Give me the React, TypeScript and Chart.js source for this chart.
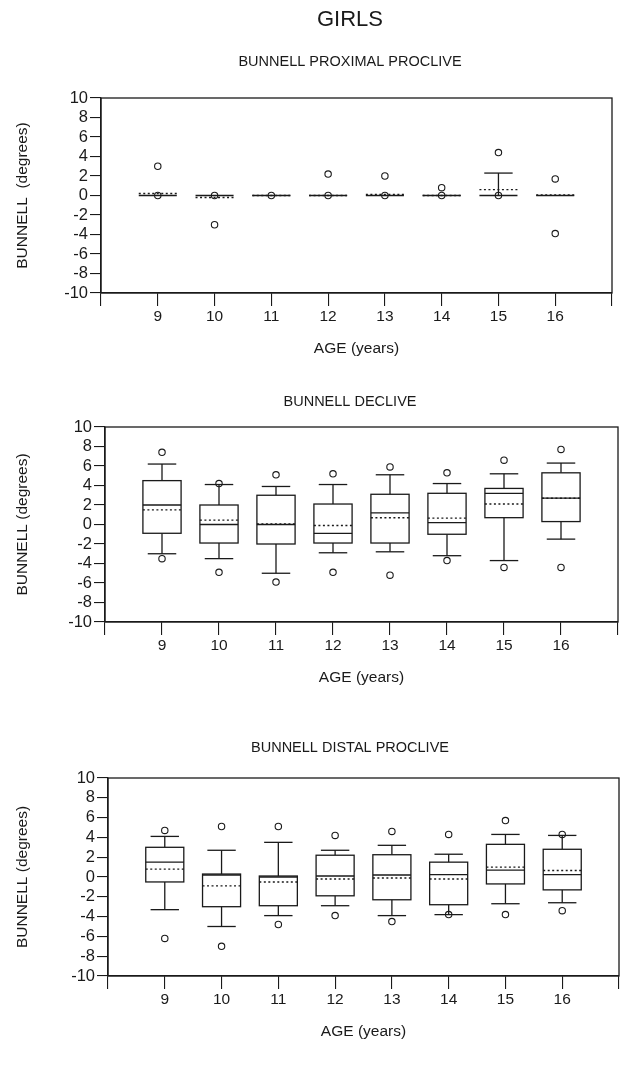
import React, { useEffect, useRef } from 'react';
import { Chart, registerables } from 'chart.js';

Chart.register(...registerables);

// ---------------- data ----------------
const AGES = [9, 10, 11, 12, 13, 14, 15, 16];
const AGE_LABEL_MIN = 9;
const AGE_LABEL_MAX = 16;
const X_MIN = 8;
const X_MAX = 17;
const Y_MIN = -10;
const Y_MAX = 10;
const Y_STEP = 2;

const MAIN_TITLE = 'GIRLS';
const X_TITLE = 'AGE (years)';

// Panel 1: BUNNELL PROXIMAL PROCLIVE
const PROX_TITLE = 'BUNNELL PROXIMAL PROCLIVE';
const PROX_Y_TITLE = 'BUNNELL  (degrees)';
const PROX_LOW = [0, 0, 0, 0, 0, 0, 0, 0];
const PROX_Q1 = [0, 0, 0, 0, 0, 0, 0, 0];
const PROX_MEDIAN = [0, 0, 0, 0, 0, 0, 0, 0];
const PROX_Q3 = [0, 0, 0, 0, 0, 0, 0, 0];
const PROX_HIGH = [0, 0, 0, 0, 0, 0, 2.3, 0];
const PROX_MEAN = [0.2, -0.2, 0, 0, 0.1, 0, 0.6, 0.05];
const PROX_OUTLIERS = [[3.0, 0], [0, -3.0], [0], [2.2, 0], [2.0, 0], [0.8, 0], [4.4, 0], [1.7, -3.9]];

// Panel 2: BUNNELL DECLIVE
const DECL_TITLE = 'BUNNELL DECLIVE';
const DECL_Y_TITLE = 'BUNNELL (degrees)';
const DECL_LOW = [-3.0, -3.5, -5.0, -2.9, -2.8, -3.2, -3.7, -1.5];
const DECL_Q1 = [-0.9, -1.9, -2.0, -1.9, -1.9, -1.0, 0.7, 0.3];
const DECL_MEDIAN = [2.0, 0.0, 0.0, -0.9, 1.2, 0.2, 3.2, 2.7];
const DECL_Q3 = [4.5, 2.0, 3.0, 2.1, 3.1, 3.2, 3.7, 5.3];
const DECL_HIGH = [6.2, 4.1, 3.9, 4.1, 5.1, 4.2, 5.2, 6.3];
const DECL_MEAN = [1.5, 0.45, 0.05, -0.1, 0.7, 0.65, 2.1, 2.7];
const DECL_OUTLIERS = [[7.4, -3.5], [4.2, -4.9], [5.1, -5.9], [5.2, -4.9], [5.9, -5.2], [5.3, -3.7], [6.6, -4.4], [7.7, -4.4]];

// Panel 3: BUNNELL DISTAL PROCLIVE
const DIST_TITLE = 'BUNNELL DISTAL PROCLIVE';
const DIST_Y_TITLE = 'BUNNELL (degrees)';
const DIST_LOW = [-3.3, -5.0, -3.9, -2.9, -3.9, -3.8, -2.7, -2.6];
const DIST_Q1 = [-0.5, -3.0, -2.9, -1.9, -2.3, -2.8, -0.7, -1.3];
const DIST_MEDIAN = [1.5, 0.2, 0.0, 0.1, 0.2, 0.25, 0.7, 0.25];
const DIST_Q3 = [3.0, 0.3, 0.1, 2.2, 2.25, 1.5, 3.3, 2.8];
const DIST_HIGH = [4.1, 2.7, 3.5, 2.7, 3.2, 2.3, 4.3, 4.2];
const DIST_MEAN = [0.8, -0.9, -0.5, -0.2, -0.1, -0.2, 1.0, 0.65];
const DIST_OUTLIERS = [[4.7, -6.2], [5.1, -7.0], [5.1, -4.8], [4.2, -3.9], [4.6, -4.5], [4.3, -3.8], [5.7, -3.8], [4.3, -3.4]];

// ---------------- styles / layout ----------------
const FONT = "'Liberation Sans', Arial, Helvetica, sans-serif";
const INK = '#1a1a1a';
const CANVAS_W = 700;
const BOX_WIDTH = 0.67; // in age units
const CAP_WIDTH = 0.5;
const X_TICK_FONT = 15.5;
const Y_TICK_FONT = 16.5;
const PANEL_TITLE_FONT = 14.5;
const AXIS_TITLE_FONT = 15.5;
const AGE_GAP = 56;

type PanelData = {
  key: string; title: string; yTitle: string; main: boolean;
  low: number[]; q1: number[]; median: number[]; q3: number[]; high: number[]; mean: number[]; outliers: number[][];
};
type PanelLayout = { top: number; height: number; areaTop: number; areaBottom: number; left: number; right: number; titleCenter: number };

const PANELS: { data: PanelData; layout: PanelLayout }[] = [
  {
    data: { key: 'prox', title: PROX_TITLE, yTitle: PROX_Y_TITLE, main: true, low: PROX_LOW, q1: PROX_Q1, median: PROX_MEDIAN, q3: PROX_Q3, high: PROX_HIGH, mean: PROX_MEAN, outliers: PROX_OUTLIERS },
    layout: { top: 0, height: 358, areaTop: 98, areaBottom: 293, left: 101, right: 612, titleCenter: 62 },
  },
  {
    data: { key: 'decl', title: DECL_TITLE, yTitle: DECL_Y_TITLE, main: false, low: DECL_LOW, q1: DECL_Q1, median: DECL_MEDIAN, q3: DECL_Q3, high: DECL_HIGH, mean: DECL_MEAN, outliers: DECL_OUTLIERS },
    layout: { top: 360, height: 334, areaTop: 67, areaBottom: 262, left: 105, right: 618, titleCenter: 42 },
  },
  {
    data: { key: 'dist', title: DIST_TITLE, yTitle: DIST_Y_TITLE, main: false, low: DIST_LOW, q1: DIST_Q1, median: DIST_MEDIAN, q3: DIST_Q3, high: DIST_HIGH, mean: DIST_MEAN, outliers: DIST_OUTLIERS },
    layout: { top: 700, height: 367, areaTop: 78, areaBottom: 276, left: 108, right: 619, titleCenter: 48 },
  },
];

function boxPlugin(p: PanelData) {
  return {
    id: 'boxplot_' + p.key,
    beforeDatasetsDraw(chart: any) {
      const { ctx, chartArea: a, scales } = chart;
      const xs = scales.x;
      const ys = scales.y;
      const unit = xs.getPixelForValue(1) - xs.getPixelForValue(0);
      const bw = (unit * BOX_WIDTH) / 2;
      const cw = (unit * CAP_WIDTH) / 2;
      const line = (x1: number, y1: number, x2: number, y2: number) => {
        ctx.beginPath();
        ctx.moveTo(x1, y1);
        ctx.lineTo(x2, y2);
        ctx.stroke();
      };
      ctx.save();
      ctx.strokeStyle = INK;
      ctx.lineWidth = 1.3;
      ctx.strokeRect(a.left, a.top, a.right - a.left, a.bottom - a.top);
      AGES.forEach((age, i) => {
        const px = xs.getPixelForValue(age);
        const yLo = ys.getPixelForValue(p.low[i]);
        const yQ1 = ys.getPixelForValue(p.q1[i]);
        const yMed = ys.getPixelForValue(p.median[i]);
        const yQ3 = ys.getPixelForValue(p.q3[i]);
        const yHi = ys.getPixelForValue(p.high[i]);
        const yMean = ys.getPixelForValue(p.mean[i]);
        ctx.lineWidth = 1.3;
        ctx.setLineDash([]);
        if (p.high[i] !== p.q3[i]) {
          line(px, yQ3, px, yHi);
          line(px - cw, yHi, px + cw, yHi);
        }
        if (p.low[i] !== p.q1[i]) {
          line(px, yQ1, px, yLo);
          line(px - cw, yLo, px + cw, yLo);
        }
        if (p.q3[i] !== p.q1[i]) {
          ctx.fillStyle = '#ffffff';
          ctx.fillRect(px - bw, yQ3, 2 * bw, yQ1 - yQ3);
          ctx.strokeRect(px - bw, yQ3, 2 * bw, yQ1 - yQ3);
        }
        line(px - bw, yMed, px + bw, yMed);
        ctx.lineWidth = 1.4;
        ctx.setLineDash([2, 2.5]);
        line(px - bw, yMean, px + bw, yMean);
        ctx.setLineDash([]);
      });
      ctx.restore();
    },
  };
}

function buildConfig(p: PanelData, L: PanelLayout): any {
  const points = p.outliers.flatMap((vals, i) => vals.map((v) => ({ x: AGES[i], y: v })));
  const ptLH = PANEL_TITLE_FONT * 1.2;
  const mainLH = 22 * 1.2;
  const axLH = AXIS_TITLE_FONT * 1.2;
  const ageCenter = L.areaBottom + AGE_GAP;
  const xTitlePadBottom = Math.max(0, L.height - ageCenter - axLH / 2);

  const panelTitle = {
    display: true,
    text: p.title,
    color: INK,
    font: { family: FONT, size: PANEL_TITLE_FONT, weight: 'normal' as const },
  };

  const titleOpts = p.main
    ? {
        title: {
          display: true,
          text: MAIN_TITLE,
          color: INK,
          font: { family: FONT, size: 22, weight: 'normal' as const },
          padding: { top: 20 - mainLH / 2, bottom: 0 },
        },
        subtitle: {
          ...panelTitle,
          padding: { top: L.titleCenter - ptLH / 2 - (20 + mainLH / 2), bottom: L.areaTop - (L.titleCenter + ptLH / 2) },
        },
      }
    : {
        title: {
          ...panelTitle,
          padding: { top: L.titleCenter - ptLH / 2, bottom: L.areaTop - (L.titleCenter + ptLH / 2) },
        },
        subtitle: { display: false },
      };

  return {
    type: 'scatter',
    data: {
      datasets: [
        {
          data: points,
          xAxisID: 'x',
          yAxisID: 'y',
          pointRadius: 3.2,
          pointHoverRadius: 3.2,
          pointBorderWidth: 1.1,
          pointBorderColor: INK,
          pointBackgroundColor: 'rgba(255,255,255,0)',
        },
      ],
    },
    options: {
      responsive: false,
      animation: false,
      events: [],
      layout: { padding: 0 },
      plugins: {
        legend: { display: false },
        tooltip: { enabled: false },
        ...titleOpts,
      },
      scales: {
        x: {
          type: 'linear',
          position: 'bottom',
          min: X_MIN,
          max: X_MAX,
          afterFit: (s: any) => {
            s.height = L.height - L.areaBottom;
          },
          ticks: {
            stepSize: 1,
            autoSkip: false,
            maxRotation: 0,
            padding: 1,
            color: INK,
            font: { family: FONT, size: X_TICK_FONT },
            callback: (v: number) => (v >= AGE_LABEL_MIN && v <= AGE_LABEL_MAX ? String(v) : ''),
          },
          grid: { display: true, drawOnChartArea: false, drawTicks: true, tickLength: 13, color: INK, lineWidth: 1.1 },
          border: { display: true, color: INK, width: 1.3 },
          title: {
            display: true,
            text: X_TITLE,
            color: INK,
            font: { family: FONT, size: AXIS_TITLE_FONT },
            padding: { top: 0, bottom: xTitlePadBottom },
          },
        },
        y: {
          type: 'linear',
          position: 'left',
          min: Y_MIN,
          max: Y_MAX,
          afterFit: (s: any) => {
            s.width = L.left;
          },
          ticks: {
            stepSize: Y_STEP,
            autoSkip: false,
            padding: 2,
            color: INK,
            font: { family: FONT, size: Y_TICK_FONT },
          },
          grid: { display: true, drawOnChartArea: false, drawTicks: true, tickLength: 11, color: INK, lineWidth: 1.1 },
          border: { display: true, color: INK, width: 1.3 },
          title: {
            display: true,
            text: p.yTitle,
            color: INK,
            font: { family: FONT, size: AXIS_TITLE_FONT },
            padding: { top: 13, bottom: 0 },
          },
        },
        r: {
          type: 'linear',
          position: 'right',
          display: true,
          afterFit: (s: any) => {
            s.width = CANVAS_W - L.right;
          },
          ticks: { display: false },
          grid: { display: false, drawTicks: false },
          border: { display: false },
        },
      },
    },
    plugins: [boxPlugin(p)],
  };
}

function Panel({ data, layout }: { data: PanelData; layout: PanelLayout }) {
  const ref = useRef<HTMLCanvasElement>(null);
  useEffect(() => {
    if (!ref.current) return;
    const chart = new Chart(ref.current, buildConfig(data, layout));
    return () => chart.destroy();
  }, [data, layout]);
  return (
    <div style={{ position: 'absolute', left: 0, top: layout.top, width: CANVAS_W, height: layout.height }}>
      <canvas ref={ref} width={CANVAS_W} height={layout.height} style={{ width: CANVAS_W, height: layout.height, display: 'block' }} />
    </div>
  );
}

export default function App() {
  return (
    <div style={{ position: 'absolute', left: 0, top: 0, width: 622, height: 1067, overflow: 'hidden', background: '#ffffff' }}>
      {PANELS.map((pn) => (
        <Panel key={pn.data.key} data={pn.data} layout={pn.layout} />
      ))}
    </div>
  );
}
